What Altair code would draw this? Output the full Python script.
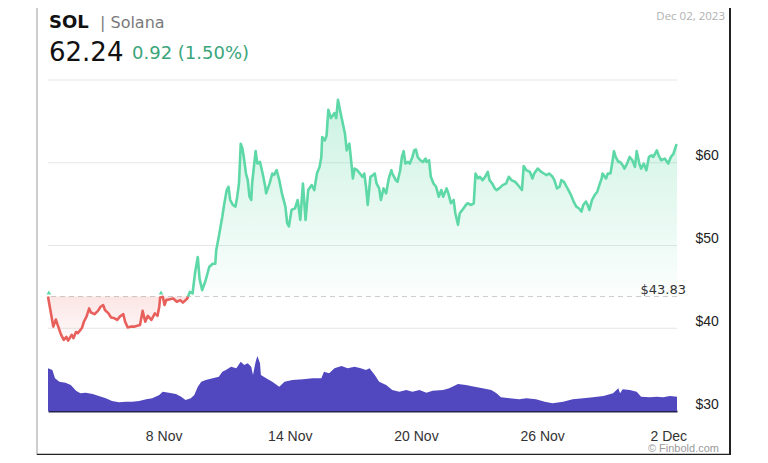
import altair as alt
import pandas as pd

# ---------------- data ----------------
BASE_PRICE = 43.83
START = pd.Timestamp("2023-11-02 12:00")

# hours since Nov 2 12:00
price_hours = [
    0, 6, 9, 11, 15, 18, 21, 23, 27, 29,
    32, 34, 37, 39, 41, 44, 47, 49, 53, 57,
    60, 63, 65, 69, 72, 76, 79, 82, 86, 88,
    91, 95, 99, 105, 108, 111, 114, 118, 122, 125,
    127, 128, 131, 133, 135, 139, 143, 147, 151, 154,
    159, 162, 165, 168, 171, 173, 176, 180, 184, 188,
    191, 192, 195, 197, 199, 201, 204, 206, 208, 211,
    214, 216, 218, 220, 222, 224, 226, 228, 230, 232,
    233, 237, 239, 242, 245, 248, 249, 253, 256, 258,
    261, 264, 267, 271, 273, 275, 278, 282, 285, 288,
    291, 294, 297, 301, 304, 307, 310, 312, 313, 316,
    318, 320, 323, 327, 329, 331, 334, 336, 339, 341,
    344, 346, 348, 350, 353, 356, 359, 361, 363, 365,
    368, 371, 373, 375, 378, 380, 383, 386, 389, 392,
    393, 397, 399, 402, 404, 406, 408, 411, 413, 416,
    418, 420, 422, 425, 428, 431, 432, 435, 437, 440,
    443, 446, 449, 451, 455, 457, 460, 463, 465, 468,
    470, 473, 477, 479, 483, 486, 488, 491, 493, 496,
    499, 502, 504, 507, 510, 512, 515, 519, 523, 526,
    529, 533, 535, 538, 541, 543, 546, 550, 553, 555,
    559, 563, 566, 569, 572, 576, 578, 581, 584, 586,
    589, 592, 595, 597, 600, 603, 606, 609, 611, 614,
    616, 618, 621, 624, 627, 630, 632, 633, 637, 639,
    642, 644, 646, 648, 651, 653, 656, 658, 661, 664,
    667, 670, 672, 675, 677, 680, 683, 686, 689, 691,
    695, 697, 700, 704, 708, 711, 714, 717, 718,
]
prices = [
    43.83, 40.2, 41.05, 40.4, 39.2, 38.6, 38.95, 38.5, 39.2, 38.8,
    39.55, 39.4, 39.8, 40.1, 40.8, 41.4, 42.4, 41.9, 41.7, 42.1,
    42.6, 42.8, 42.2, 41.8, 41.3, 41.2, 41.0, 41.4, 41.7, 40.8,
    40.1, 40.2, 40.2, 40.4, 42.1, 40.8, 41.5, 41.0, 41.8, 41.5,
    42.6, 43.7, 43.8, 42.8, 43.4, 43.5, 43.6, 43.2, 43.4, 43.1,
    43.6, 44.4, 44.2, 46.8, 48.6, 46.0, 44.6, 45.8, 47.4, 47.8,
    47.8, 49.4, 51.1, 52.3, 53.5, 54.9, 56.7, 57.1, 55.5, 54.9,
    54.7, 55.9, 57.5, 62.3, 61.7, 60.3, 58.7, 57.9, 55.9, 55.5,
    57.5, 61.4, 59.9, 60.1, 58.7, 57.1, 56.3, 57.5, 58.7, 58.5,
    59.1, 57.9, 56.3, 54.7, 52.7, 52.3, 54.3, 54.5, 55.5, 53.1,
    57.5, 53.1, 56.7, 57.3, 56.7, 58.7, 59.5, 60.7, 63.1, 62.7,
    63.3, 66.4, 65.4, 66.0, 65.4, 67.6, 66.0, 65.0, 63.5, 61.5,
    62.3, 60.3, 58.1, 59.3, 59.1, 58.7, 58.3, 58.7, 57.1, 54.9,
    58.3, 58.5, 58.7, 57.5, 56.9, 55.5, 56.9, 56.3, 58.1, 59.1,
    58.7, 57.9, 57.7, 59.1, 60.7, 61.4, 59.9, 60.1, 59.9, 60.7,
    61.5, 61.6, 60.7, 60.3, 60.1, 60.5, 60.1, 60.3, 58.3, 57.5,
    57.1, 55.9, 56.7, 55.9, 56.9, 56.3, 55.1, 55.5, 53.9, 52.5,
    53.9, 54.3, 54.9, 55.1, 54.9, 55.1, 58.7, 58.1, 58.3, 57.9,
    58.3, 58.9, 57.9, 57.5, 56.9, 56.7, 56.9, 57.3, 57.5, 58.3,
    57.9, 57.7, 57.5, 57.1, 56.7, 59.6, 59.1, 58.9, 58.1, 58.7,
    59.3, 58.9, 58.7, 58.5, 58.7, 58.3, 57.9, 56.9, 57.1, 57.9,
    57.7, 57.1, 56.5, 56.1, 55.3, 54.7, 54.5, 54.1, 54.9, 55.3,
    54.9, 54.3, 55.5, 56.1, 56.5, 57.5, 58.1, 58.7, 58.1, 58.7,
    58.7, 59.9, 61.4, 60.7, 60.1, 60.1, 59.7, 59.3, 59.9, 60.7,
    60.3, 59.5, 61.4, 59.9, 59.3, 59.9, 59.1, 60.7, 60.9, 60.7,
    61.5, 60.9, 60.3, 60.5, 59.9, 60.7, 61.1, 62.1, 62.24,
]

volume_hours = [
    0, 5, 8, 13, 20, 26, 32, 37, 43, 51,
    58, 66, 73, 81, 89, 96, 104, 112, 119, 127,
    131, 138, 146, 152, 157, 163, 167, 171, 175, 180,
    188, 195, 199, 203, 209, 215, 220, 224, 228, 232,
    234, 237, 239, 242, 243, 249, 256, 264, 270, 279,
    291, 302, 312, 315, 321, 327, 335, 342, 350, 357,
    363, 367, 373, 378, 386, 393, 401, 409, 416, 424,
    432, 439, 451, 458, 468, 477, 487, 496, 506, 512,
    517, 527, 538, 546, 557, 567, 576, 588, 599, 611,
    622, 634, 645, 651, 653, 656, 664, 672, 677, 687,
    695, 702, 710, 718,
]
volumes = [
    1708, 1640, 1308, 1172, 1132, 1040, 812, 708, 732, 680,
    600, 508, 400, 348, 372, 372, 400, 468, 508, 640,
    772, 732, 680, 572, 440, 508, 640, 972, 1172, 1240,
    1308, 1372, 1572, 1640, 1772, 1708, 1972, 1840, 1908, 1772,
    1440, 1972, 2200, 1908, 1440, 1308, 1172, 972, 1172, 1240,
    1268, 1308, 1308, 1572, 1508, 1708, 1800, 1708, 1772, 1708,
    1640, 1708, 1440, 1172, 1040, 840, 772, 840, 772, 840,
    732, 812, 840, 908, 1080, 1040, 972, 908, 840, 708,
    548, 508, 468, 508, 468, 372, 308, 372, 468, 508,
    548, 600, 708, 908, 708, 868, 840, 772, 572, 548,
    572, 548, 600, 572,
]
VOLUME_MAX = 13240

grid_levels = [40, 50, 60, 70]
axis_levels = [30, 40, 50, 60]
tick_dates = ["2023-11-08", "2023-11-14", "2023-11-20", "2023-11-26", "2023-12-02"]
marker_hours = [1, 129]

# ---------------- tables ----------------
def ts(h):
    return START + pd.to_timedelta(h, unit="h")

rows = []
run = 0
prev = None
for h, p in zip(price_hours, prices):
    side = "up" if p >= BASE_PRICE else "down"
    if prev is not None and side != prev[2]:
        h0, p0, s0 = prev
        hc = h0 + (BASE_PRICE - p0) / (p - p0) * (h - h0)
        rows.append(dict(t=ts(hc), price=BASE_PRICE, side=s0, run=run))
        run += 1
        rows.append(dict(t=ts(hc), price=BASE_PRICE, side=side, run=run))
    rows.append(dict(t=ts(h), price=p, side=side, run=run))
    prev = (h, p, side)
price_df = pd.DataFrame(rows)

vol_df = pd.DataFrame({"t": [ts(h) for h in volume_hours], "vol": volumes})
grid_df = pd.DataFrame({"v": grid_levels})
base_df = pd.DataFrame({"v": [BASE_PRICE], "t": [ts(price_hours[-1])],
                        "label": ["$%.2f" % BASE_PRICE]})
mark_df = pd.DataFrame({"t": [ts(h) for h in marker_hours],
                        "v": [BASE_PRICE] * len(marker_hours)})
one = pd.DataFrame({"a": [0]})

# ---------------- scales / axes ----------------
GREEN = "#5ed8a6"
RED = "#e8605c"
xscale = alt.Scale(domain=[alt.DateTime(year=2023, month=11, date=2, hours=12),
                           alt.DateTime(year=2023, month=12, date=2, hours=10)])
xaxis = alt.Axis(
    title=None, format="%-d %b", ticks=False, grid=False,
    values=[alt.DateTime(year=int(d[:4]), month=int(d[5:7]), date=int(d[8:])) for d in tick_dates],
    labelFont="Liberation Sans", labelFontSize=14, labelColor="#333333",
    labelPadding=18, domain=True, domainColor="#23234a", domainWidth=2,
)
yscale = alt.Scale(domain=[30, 70], nice=False, zero=False)

X = alt.X("t:T", scale=xscale, axis=xaxis)

# gridlines + visible right axis
grid = alt.Chart(grid_df).mark_rule(color="#e6e6e6", strokeWidth=1).encode(
    y=alt.Y("v:Q", scale=yscale, axis=alt.Axis(
        orient="right", values=axis_levels, title=None, grid=False, ticks=False,
        domain=False, labelExpr="'$' + datum.value", labelBaseline="alphabetic",
        labelOffset=-3, labelPadding=18, labelFont="Liberation Sans",
        labelFontSize=14, labelColor="#222222")),
)

base_rule = alt.Chart(base_df).mark_rule(color="#cccccc", strokeDash=[5, 4], strokeWidth=1).encode(
    y=alt.Y("v:Q", scale=yscale, axis=None)
)

volume = alt.Chart(vol_df).mark_area(color="#5148c0", opacity=1).encode(
    x=X,
    y=alt.Y("vol:Q", scale=alt.Scale(domain=[0, VOLUME_MAX], nice=False), axis=None),
)

green_fill = alt.Gradient(
    gradient="linear", x1=0, x2=0, y1=0, y2=1,
    stops=[alt.GradientStop(color="rgba(94,216,166,0.32)", offset=0),
           alt.GradientStop(color="rgba(94,216,166,0.02)", offset=1)],
)
red_fill = alt.Gradient(
    gradient="linear", x1=0, x2=0, y1=0, y2=1,
    stops=[alt.GradientStop(color="rgba(232,96,92,0.16)", offset=0),
           alt.GradientStop(color="rgba(232,96,92,0.03)", offset=1)],
)

area_up = alt.Chart(price_df).transform_filter("datum.side == 'up'").mark_area(
    color=green_fill).encode(
    x=X, y=alt.Y("price:Q", scale=yscale, axis=None), y2=alt.datum(BASE_PRICE),
    detail="run:N",
)
area_down = alt.Chart(price_df).transform_filter("datum.side == 'down'").mark_area(
    color=red_fill).encode(
    x=X, y=alt.Y("price:Q", scale=yscale, axis=None), y2=alt.datum(BASE_PRICE),
    detail="run:N",
)
line_up = alt.Chart(price_df).transform_filter("datum.side == 'up'").mark_line(
    color=GREEN, strokeWidth=2.6, strokeJoin="round").encode(
    x=X, y=alt.Y("price:Q", scale=yscale, axis=None), detail="run:N",
)
line_down = alt.Chart(price_df).transform_filter("datum.side == 'down'").mark_line(
    color=RED, strokeWidth=2.6, strokeJoin="round").encode(
    x=X, y=alt.Y("price:Q", scale=yscale, axis=None), detail="run:N",
)
markers = alt.Chart(mark_df).mark_point(
    shape="triangle-up", filled=True, color=GREEN, size=22, opacity=1, yOffset=-4).encode(
    x=X, y=alt.Y("v:Q", scale=yscale, axis=None),
)
base_label = alt.Chart(base_df).mark_text(
    align="right", baseline="alphabetic", dx=9, dy=-3, font="DejaVu Sans",
    fontSize=13, color="#333333").encode(
    x=X, y=alt.Y("v:Q", scale=yscale, axis=None), text="label:N",
)

def txt(s, x, y, **kw):
    return alt.Chart(one).mark_text(x=x, y=y, text=s, **kw)

header = [
    txt("SOL", 1, -52, align="left", baseline="alphabetic", font="DejaVu Sans",
        fontWeight="bold", fontSize=18, color="#111111"),
    txt("| Solana", 52, -52, align="left", baseline="alphabetic", font="DejaVu Sans",
        fontSize=16, color="#7a7a7a"),
    txt("62.24", 1, -19, align="left", baseline="alphabetic", font="DejaVu Sans",
        fontSize=26, color="#111111"),
    txt("0.92 (1.50%)", 84, -21, align="left", baseline="alphabetic", font="DejaVu Sans",
        fontSize=18, color="#3ba57b"),
    txt("Dec 02, 2023", 677, -60, align="right", baseline="alphabetic", font="Open Sans",
        fontSize=11.5, color="#b0b0b0"),
    txt("\u00a9 Finbold.com", 671, 372, align="right", baseline="alphabetic",
        font="Liberation Sans", fontSize=11, color="#9a9a9a"),
]

frame = [
    alt.Chart(one).mark_rule(color="#9a9a9a", strokeWidth=1).encode(
        x=alt.value(-11), y=alt.value(-72), y2=alt.value(375)),
    alt.Chart(one).mark_rule(color="#222222", strokeWidth=2).encode(
        x=alt.value(682), y=alt.value(-72), y2=alt.value(375)),
    alt.Chart(one).mark_rule(color="#222222", strokeWidth=1.5).encode(
        x=alt.value(-11), x2=alt.value(683), y=alt.value(374.5)),
]

chart = alt.layer(
    grid, base_rule, volume, area_down, area_up, line_down, line_up, markers,
    base_label, *header, *frame,
).resolve_scale(y="independent").properties(
    width=629, height=331,
    autosize=alt.AutoSizeParams(type="none"),
    padding={"left": 40, "top": 72, "right": 83, "bottom": 44},
    background="white",
).configure_view(stroke=None)

chart.save("out.html", embed_options={"renderer": "svg", "actions": False})
